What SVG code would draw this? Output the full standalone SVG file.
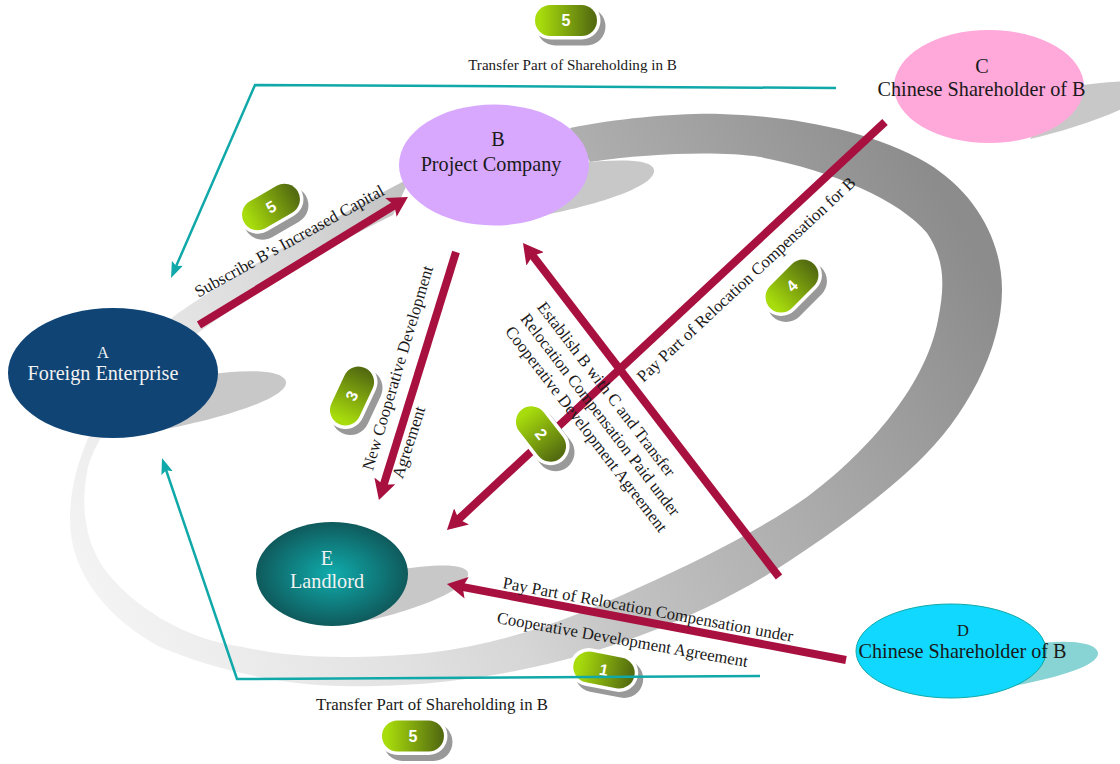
<svg xmlns="http://www.w3.org/2000/svg" width="1120" height="764" viewBox="0 0 1120 764">
<style>
text{font-family:"Liberation Serif","Times New Roman",serif;text-anchor:middle;fill:#1a1a1a}
.lb{font-size:16.800px}
.nt{font-size:20.200px}
.sm{font-size:16.500px}
.wt{fill:#f2f2f2}
.sh{fill:#c8c8c8}
.cr{fill:none;stroke:#a8103f;stroke-width:8;marker-end:url(#ah)}
.te{fill:none;stroke:#10a8a8;stroke-width:2.5;marker-end:url(#at)}
.pb{fill:#999}
.pw{fill:#fff}
.pg{fill:url(#lime)}
.pt{font-family:"Liberation Sans",Arial,sans-serif;font-weight:bold;font-size:16px;fill:#fff}
</style>
<defs>
<linearGradient id="ring" gradientUnits="userSpaceOnUse" x1="100" y1="620" x2="930" y2="170">
<stop offset="0" stop-color="#f4f4f4"/><stop offset="0.25" stop-color="#e2e2e2"/><stop offset="0.38" stop-color="#d6d6d6"/><stop offset="0.5" stop-color="#c2c2c2"/><stop offset="0.7" stop-color="#adadad"/><stop offset="1" stop-color="#8c8c8c"/>
</linearGradient>
<linearGradient id="lime" x1="0" y1="0" x2="1" y2="0">
<stop offset="0.08" stop-color="#a8dc0c"/><stop offset="0.95" stop-color="#546c10"/>
</linearGradient>
<radialGradient id="eg" cx="0.5" cy="0.5" r="0.5">
<stop offset="0" stop-color="#10acac"/><stop offset="1" stop-color="#0f5a5c"/>
</radialGradient>
<marker id="ah" markerUnits="userSpaceOnUse" viewBox="0 0 20 22" markerWidth="20" markerHeight="22" refX="6" refY="11" orient="auto">
<path d="M0 0 L20 11 L0 22 L4 11 Z" fill="#a8103f"/>
</marker>
<marker id="at" markerUnits="userSpaceOnUse" viewBox="0 0 16 14" markerWidth="16" markerHeight="14" refX="6" refY="7" orient="auto">
<path d="M0 1 L16 7 L0 13 L3 7 Z" fill="#10a8a8"/>
</marker>
<g id="pill">
<rect class="pw" x="-34.500" y="-19" width="69" height="38" rx="19"/>
<rect class="pg" x="-31" y="-15.500" width="62" height="31" rx="15.500"/>
</g>
<rect id="pillb" class="pb" x="-34.500" y="-19" width="69" height="38" rx="19"/>
</defs>

<path id="ring-band" fill="url(#ring)" d="M570 128 C620 118 680 113 720 114 C790 116 870 130 927 163 C975 192 1002 240 1002 290 C1002 350 965 418 917 463 C880 498 830 535 780 567 C700 618 600 655 520 670 C450 684 390 687 343 686 C280 685 215 670 160 647 C110 620 70 575 70 520 C70 460 100 395 173 317 C190 303 290 240 410 178 L393 215 C320 250 250 295 195 335 C150 370 100 425 88 467 C80 505 85 540 103 567 C130 605 185 640 243 647 C290 658 350 660 427 653 C500 645 570 620 640 587 C700 560 760 530 807 497 C860 458 925 390 938 320 C945 285 945 260 927 233 C900 200 830 170 760 157 C720 151 650 153 590 162 Z"/>

<g id="shadows">
<path class="sh" d="M205 375 C240 370 283 368 286 382 C288 398 220 420 150 432 Z"/>
<path class="sh" d="M575 163 C610 160 652 157 654 170 C656 186 600 204 545 215 Z"/>
<path class="sh" d="M1065 88 C1085 84 1105 82 1130 81 L1130 105 C1100 120 1060 132 1030 139 Z"/>
<path class="sh" d="M395 570 C430 565 465 562 468 573 C470 590 410 612 365 621 Z"/>
<path fill="#88d4d4" d="M1030 644 C1060 640 1096 640 1098 653 C1099 668 1040 682 990 690 Z"/>
</g>

<g id="node-a"><ellipse cx="113" cy="373" rx="105" ry="65" fill="#0f4475"/>
<text class="sm wt" x="103" y="358">A</text><text class="nt wt" x="103" y="380">Foreign Enterprise</text></g>
<g id="node-b"><ellipse cx="494" cy="165" rx="95" ry="60.500" fill="#d8a8ff"/>
<text class="nt" x="498" y="146">B</text><text class="nt" x="491" y="171">Project Company</text></g>
<g id="node-c"><ellipse cx="989" cy="86.500" rx="95" ry="56.500" fill="#ffa8da"/>
<text class="nt" x="982" y="73">C</text><text class="nt" x="981.500" y="96">Chinese Shareholder of B</text></g>
<g id="node-d"><ellipse cx="951" cy="651" rx="95" ry="47" fill="#10d8ff" stroke="#10a8a8"/>
<text class="sm" x="963" y="636">D</text><text class="nt" x="962.500" y="658">Chinese Shareholder of B</text></g>
<g id="node-e"><ellipse cx="332" cy="574" rx="76" ry="52" fill="url(#eg)"/>
<text class="nt wt" x="327" y="565">E</text><text class="nt wt" x="327" y="588">Landlord</text></g>

<g id="badges-back">
<g id="badge-5a"><use href="#pillb" transform="translate(571,26.500)"/><g transform="translate(566,20.500)"><use href="#pill"/><text class="pt" y="5.500">5</text></g></g>
<g id="badge-5b"><use href="#pillb" transform="translate(276,213) rotate(-30)"/><g transform="translate(271,207) rotate(-30)"><use href="#pill"/><text class="pt" y="5.500">5</text></g></g>
<g id="badge-3"><use href="#pillb" transform="translate(357,402) rotate(-65)"/><g transform="translate(352,396) rotate(-65)"><use href="#pill"/><text class="pt" y="5.500">3</text></g></g>
<g id="badge-4"><use href="#pillb" transform="translate(797,292) rotate(-45)"/><g transform="translate(792,286) rotate(-45)"><use href="#pill"/><text class="pt" y="5.500">4</text></g></g>
<g id="badge-5c"><use href="#pillb" transform="translate(418,742)"/><g transform="translate(413,736)"><use href="#pill"/><text class="pt" y="5.500">5</text></g></g>
<g id="badge-1"><use href="#pillb" transform="translate(609,676) rotate(11)"/><g transform="translate(604,670) rotate(11)"><use href="#pill"/><text class="pt" y="5.500">1</text></g></g>
</g>

<g id="connectors">
<path class="cr" d="M199 325 L396 204.300"/>
<path class="cr" d="M456 252 L383.100 486.600"/>
<path class="cr" d="M885 122 L457.200 520.500"/>
<path class="cr" d="M779 577 L531.500 254.100"/>
<path class="cr" d="M846 660 L460.700 586.600"/>
<path class="te" d="M836 88 L255 85 L175 268.800"/>
<path class="te" d="M760 676 L237 679 L165.200 467.500"/>
</g>

<g id="badge-2"><use href="#pillb" transform="translate(546,440) rotate(52)"/><g transform="translate(541,434) rotate(52)"><use href="#pill"/><text class="pt" y="5.500">2</text></g></g>

<g id="labels">
<text font-size="15.100" x="572.500" y="70">Transfer Part of Shareholding in B</text>
<text class="lb" x="432" y="710">Transfer Part of Shareholding in B</text>
<text class="lb" transform="translate(292,246) rotate(-29)">Subscribe B’s Increased Capital</text>
<text class="lb" transform="translate(403,369.500) rotate(-73.400)">New Cooperative Development</text>
<text class="lb" transform="translate(414,444) rotate(-72)">Agreement</text>
<text class="lb" transform="translate(602,392.500) rotate(52.500)">Establish B with C and Transfer</text>
<text class="lb" transform="translate(596,418) rotate(52.500)">Relocation Compensation Paid under</text>
<text class="lb" transform="translate(582,432.500) rotate(52.500)">Cooperative Development Agreement</text>
<text class="lb" transform="translate(750,283.500) rotate(-43)">Pay Part of Relocation Compensation for B</text>
<text class="lb" transform="translate(647,615) rotate(10.500)">Pay Part of Relocation Compensation under</text>
<text class="lb" transform="translate(621.500,645) rotate(10)">Cooperative Development Agreement</text>
</g>
</svg>
